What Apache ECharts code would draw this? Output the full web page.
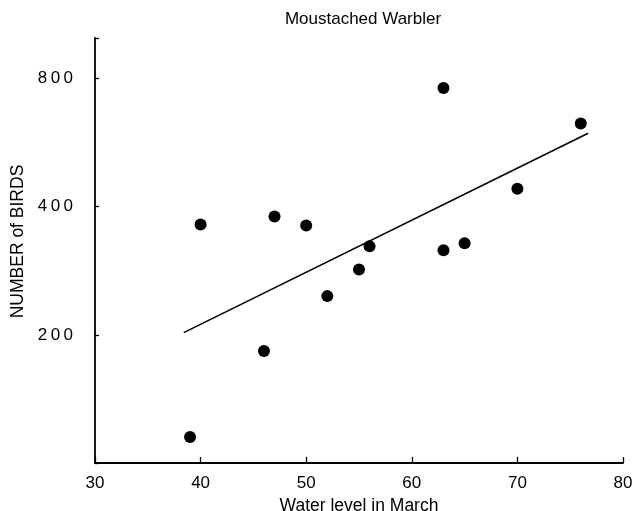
<!DOCTYPE html>
<html>
<head>
<meta charset="utf-8">
<script src="https://cdn.jsdelivr.net/npm/echarts@6/dist/echarts.min.js"></script>
<style>html,body{margin:0;padding:0;background:#fff}#c{width:635px;height:511px}</style>
</head>
<body>
<div id="c"></div>
<script>
const waterLevel = [39, 40, 46, 47, 50, 52, 55, 56, 63, 63, 65, 70, 76];
const birds = [115, 362, 183, 378, 360, 246, 284, 322, 756, 315, 327, 439, 624];
const fitX = [38.4, 76.7];
const fitY = [202, 592];
const yTickLabels = [200, 400, 800];

const chart = echarts.init(document.getElementById('c'));
const font = 'Liberation Sans, Arial, Helvetica, sans-serif';
chart.setOption({
  animation: false,
  backgroundColor: '#fff',
  title: {
    text: 'Moustached Warbler',
    left: 358, top: 6, textAlign: 'center',
    textStyle: {fontFamily: font, fontSize: 17, fontWeight: 'normal', color: '#000'}
  },
  grid: {left: 95, right: 12, top: 38, bottom: 48, containLabel: false, outerBoundsMode: 'none'},
  xAxis: {
    type: 'value', min: 30, max: 80, interval: 10,
    name: 'Water level in March', nameLocation: 'middle', nameGap: 15,
    nameTextStyle: {fontFamily: font, fontSize: 17.5, color: '#000'},
    axisLine: {lineStyle: {color: '#000', width: 1.8}},
    axisTick: {inside: true, length: 6, lineStyle: {color: '#000', width: 1.3}},
    axisLabel: {fontFamily: font, fontSize: 17, color: '#000', margin: 12},
    splitLine: {show: false}
  },
  yAxis: {
    type: 'log', logBase: 2, min: 100, max: 990, interval: 1,
    name: 'NUMBER of BIRDS', nameLocation: 'middle', nameGap: 57,
    nameTextStyle: {fontFamily: font, fontSize: 17.5, color: '#000', padding: [0, 0, 0, 18]},
    axisLine: {lineStyle: {color: '#000', width: 1.8}},
    axisTick: {inside: true, length: 4, lineStyle: {color: '#000', width: 1.3}},
    axisLabel: {
      fontFamily: font, fontSize: 17, color: '#000', margin: 22,
      padding: [0, 0, 6, 0],
      formatter: function (v) {
        let n = Number(v);
        if (n < 20) n = Math.pow(2, n);
        for (const t of yTickLabels) {
          if (Math.abs(n - t) / t < 0.05) return String(t).split('').join('\u2009');
        }
        return '';
      }
    },
    splitLine: {show: false}
  },
  series: [
    {
      type: 'scatter',
      data: waterLevel.map((x, i) => [x, birds[i]]),
      symbolSize: 12,
      itemStyle: {color: '#000', opacity: 1}
    },
    {
      type: 'line',
      data: fitX.map((x, i) => [x, fitY[i]]),
      symbol: 'none',
      lineStyle: {color: '#000', width: 1.6}
    }
  ]
});
</script>
</body>
</html>
